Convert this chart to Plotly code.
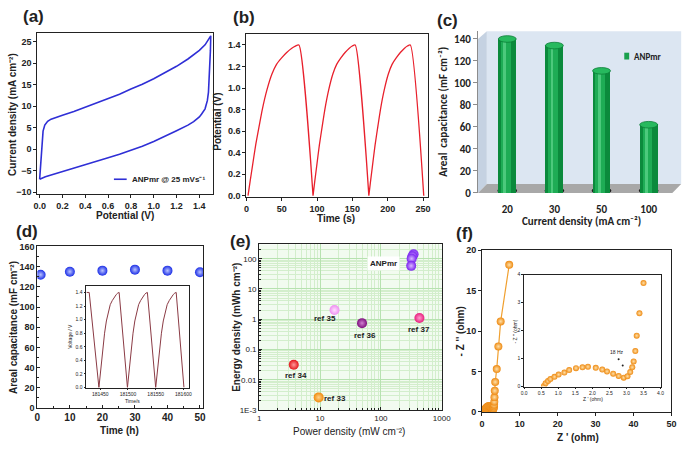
import numpy as np
import plotly.graph_objects as go

W, H = 700, 452
NARROW = "Liberation Sans Narrow, Arial Narrow, Liberation Sans, Arial"
CAL = "Carlito, Lato, Liberation Sans, Arial"

# ---------------- data ----------------
# (a) cyclic voltammogram
cv_fwd_pot = [0.0, 0.005, 0.012, 0.02, 0.03, 0.045, 0.07, 0.1, 0.15, 0.2, 0.3, 0.4, 0.5, 0.6,
              0.7, 0.8, 0.9, 1.0, 1.1, 1.2, 1.3, 1.4, 1.45, 1.5]
cv_fwd_cur = [-7.0, -5.0, -1.0, 2.0, 4.2, 5.6, 6.5, 7.0, 7.5, 7.9, 8.8, 9.8, 10.7, 11.7,
              12.8, 14.0, 15.1, 16.4, 17.8, 19.3, 21.0, 23.0, 24.3, 26.4]
cv_rev_pot = [1.5, 1.497, 1.493, 1.487, 1.48, 1.47, 1.45, 1.42, 1.4, 1.35, 1.3, 1.2, 1.1, 1.0,
              0.9, 0.8, 0.7, 0.6, 0.5, 0.4, 0.3, 0.2, 0.1, 0.05, 0.0]
cv_rev_cur = [26.4, 23.0, 19.5, 16.0, 13.3, 11.3, 9.4, 8.2, 7.5, 6.4, 5.6, 4.3, 3.0, 1.8,
              0.7, -0.3, -1.2, -2.0, -2.8, -3.6, -4.4, -5.1, -5.9, -6.4, -7.0]

# (b) galvanostatic charge/discharge: charge profile (fraction of charge time -> V)
gcd_frac = [0, 0.04, 0.085, 0.15, 0.22, 0.28, 0.37, 0.47, 0.56, 0.66, 0.76, 0.86, 0.93, 1.0]
gcd_volt = [0, 0.13, 0.27, 0.47, 0.65, 0.80, 0.98, 1.13, 1.22, 1.28, 1.33, 1.37, 1.39, 1.40]
b_start = [2.3, 94.3, 173.3]
b_peak = [74.3, 154.0, 232.0]
b_end = [94.3, 173.3, 251.0]

# (c) areal capacitance vs current density
c_current = ["20", "30", "50", "100"]
c_cap = [140, 134, 111, 62]

# (d) stability
d_time = [1, 10, 20, 30, 40, 50]
d_cap = [132, 135, 136, 137, 136, 134.5]
d_in_lead_t = [181425, 181430, 181447.5]
d_in_lead_v = [1.4, 1.4, 0.0]
d_in_start = [181447.5, 181499, 181550]
d_in_peak = [181484, 181535, 181587]
d_in_end = [181499, 181550, 181601]
d_in_ticks = [181450, 181500, 181550, 181600]

# (e) Ragone plot
ref_names = ["ref 33", "ref 34", "ref 35", "ref 36", "ref 37"]
ref_power = [9.5, 3.7, 17.3, 49, 430]
ref_energy = [0.0026, 0.031, 2.0, 0.74, 1.1]
ref_colors = ["#f08a0c", "#e3161b", "#ee8ef0", "#7d0f7d", "#e8207e"]
ref_centers = ["#ffd28a", "#ff9a9a", "#ffe0ff", "#d080d0", "#ff9ccd"]
anp_power = [345, 330, 320, 315]
anp_energy = [140, 120, 100, 58]
e_yticks = [0.001, 0.01, 0.1, 1, 10, 100]
e_yticktext = ["1E-3", "0.01", "0.1", "1", "10", "100"]
e_xticks = [1, 10, 100, 1000]

# (f) Nyquist
nyq_re = [0.58, 0.63, 0.70, 0.77, 0.89, 1.01, 1.18, 1.32, 1.52, 1.71, 1.87, 2.10, 2.29, 2.43,
          2.61, 2.77, 2.92, 3.03, 3.11, 3.17, 3.21, 3.26, 3.30, 3.38, 3.50]
nyq_im = [0.02, 0.12, 0.20, 0.27, 0.35, 0.43, 0.50, 0.59, 0.66, 0.69, 0.71, 0.67, 0.61, 0.54,
          0.46, 0.38, 0.32, 0.37, 0.52, 0.69, 0.90, 1.27, 1.82, 2.62, 3.70]
nyq_ext_re = [3.9, 4.33, 4.94, 7.19]
nyq_ext_im = [5.3, 8.1, 11.2, 18.2]
hz_dots_re = [2.77, 2.89]
hz_dots_im = [0.98, 0.75]


# ---------------- helpers ----------------
def X(px):
    return px / W


def Y(py):
    return 1 - py / H


def xax(p0, p1, rng, fs=9, fam=NARROW, **kw):
    d = dict(domain=[X(p0), X(p1)], range=rng, showline=True, linecolor="#222", linewidth=1,
             mirror=True, ticks="outside", ticklen=3, tickcolor="#222", showgrid=False,
             zeroline=False, fixedrange=True,
             tickfont=dict(family=fam, size=fs, color="#222", weight="bold"))
    d.update(kw)
    return d


def yax(top, bottom, rng, fs=9, fam=NARROW, **kw):
    d = dict(domain=[Y(bottom), Y(top)], range=rng, showline=True, linecolor="#222", linewidth=1,
             mirror=True, ticks="outside", ticklen=3, tickcolor="#222", showgrid=False,
             zeroline=False, fixedrange=True,
             tickfont=dict(family=fam, size=fs, color="#222", weight="bold"))
    d.update(kw)
    return d


def ann(x, y, text, size, angle=0, xanchor="center", fam=NARROW, color="#222", weight="bold", **kw):
    d = dict(x=X(x), y=Y(y), xref="paper", yref="paper", text=text, showarrow=False,
             textangle=angle, xanchor=xanchor, yanchor="middle",
             font=dict(family=fam, size=size, color=color, weight=weight))
    d.update(kw)
    return d


def ball(color, center, size):
    return dict(color=color, size=size, line=dict(width=0),
                gradient=dict(type="radial", color=center))


def gcd_series(starts, peaks, ends):
    ts, vs = [], []
    for s, p, e in zip(starts, peaks, ends):
        for f, v in zip(gcd_frac, gcd_volt):
            ts.append(s + f * (p - s))
            vs.append(v)
        ts.append(e)
        vs.append(0.0)
    return ts, vs


fig = go.Figure()
shapes = []
anns = []

# ---------------- (a) ----------------
fig.add_trace(go.Scatter(x=cv_fwd_pot + cv_rev_pot, y=cv_fwd_cur + cv_rev_cur, mode="lines",
                         line=dict(color="#2f2fd6", width=1.6), xaxis="x", yaxis="y"))
shapes.append(dict(type="line", xref="paper", yref="paper", x0=X(112), x1=X(125), y0=Y(179), y1=Y(179),
                   line=dict(color="#2f2fd6", width=1.6)))
anns.append(ann(128, 179, "ANPmr @ 25 mVs⁻¹", 8, xanchor="left"))
anns.append(ann(8, 112, "Current density (mA cm⁻²)", 10, angle=-90))
anns.append(ann(123, 216, "Potential (V)", 10))

# ---------------- (b) ----------------
bt, bv = gcd_series(b_start, b_peak, b_end)
fig.add_trace(go.Scatter(x=bt, y=bv, mode="lines", line=dict(color="#e8202c", width=1.3, shape="spline",
                                                               smoothing=0.6),
                         xaxis="x2", yaxis="y2"))
anns.append(ann(218, 120, "Potential (V)", 10, angle=-90))
anns.append(ann(338, 219, "Time (s)", 10))

# ---------------- (c) ----------------
cx = list(range(len(c_current)))
shapes.append(dict(type="path", xref="paper", yref="paper", layer="below",
                   path=f"M{X(483)},{Y(35)} L{X(492)},{Y(27)} L{X(492)},{Y(184)} L{X(483)},{Y(193)} Z",
                   fillcolor="#c5d2e2", line=dict(width=0)))
shapes.append(dict(type="rect", xref="paper", yref="paper", layer="below",
                   x0=X(492), x1=X(690), y0=Y(184), y1=Y(27), fillcolor="#dce6f2", line=dict(width=0)))
shapes.append(dict(type="path", xref="paper", yref="paper", layer="below",
                   path=f"M{X(483)},{Y(193)} L{X(681)},{Y(193)} L{X(690)},{Y(184)} L{X(492)},{Y(184)} Z",
                   fillcolor="#a8a8a8", line=dict(width=0)))
fig.add_trace(go.Bar(x=cx, y=c_cap, width=0.38, offset=-0.19, marker=dict(color="#0b8a3c", line=dict(width=0)),
                     xaxis="x3", yaxis="y3"))
fig.add_trace(go.Bar(x=cx, y=c_cap, width=0.2, offset=-0.13, marker=dict(color="#1eac55", line=dict(width=0)),
                     xaxis="x3", yaxis="y3"))
fig.add_trace(go.Bar(x=cx, y=c_cap, width=0.06, offset=-0.08, marker=dict(color="#4cc97c", line=dict(width=0)),
                     xaxis="x3", yaxis="y3"))
for i, v in zip(cx, c_cap):
    shapes.append(dict(type="circle", xref="x3", yref="y3", x0=i - 0.19, x1=i + 0.19, y0=v - 3, y1=v + 3,
                       fillcolor="#27b95e", line=dict(color="#0b7f37", width=0.8)))
    shapes.append(dict(type="circle", xref="x3", yref="y3", x0=i - 0.21, x1=i + 0.21, y0=-1, y1=5,
                       fillcolor="#1e1e1e", line=dict(width=0), layer="below"))
shapes.append(dict(type="rect", xref="paper", yref="paper", x0=X(632), x1=X(637), y0=Y(56), y1=Y(49),
                   fillcolor="#19a04d", line=dict(width=0)))
anns.append(ann(640, 52.5, "ANPmr", 9, xanchor="left", fam=CAL))
anns.append(ann(447, 110, "Areal  capacitance (mF cm⁻²)", 11, angle=-90, fam=CAL))
anns.append(ann(588, 222, "Current density (mA cm⁻²)", 11, fam=CAL))

# ---------------- (d) ----------------
fig.add_trace(go.Scatter(x=d_time, y=d_cap, mode="markers", marker=ball("#1c2fe6", "#b8c2ff", 10),
                         xaxis="x4", yaxis="y4"))
dt, dv = gcd_series(d_in_start, d_in_peak, d_in_end)
fig.add_trace(go.Scatter(x=d_in_lead_t + dt, y=d_in_lead_v + dv, mode="lines",
                         line=dict(color="#8a3a44", width=1), xaxis="x5", yaxis="y5"))
anns.append(ann(9, 331, "Areal capacitance (mF cm⁻²)", 10, angle=-90))
anns.append(ann(118, 437, "Time (h)", 10))
anns.append(ann(67, 340, "Voltage / V", 5, angle=-90, weight="normal"))
anns.append(ann(131, 407, "Time/s", 5, weight="normal"))

# ---------------- (e) ----------------
shapes.append(dict(type="rect", xref="paper", yref="paper", x0=X(260), x1=X(446), y0=Y(416), y1=Y(246),
                   fillcolor="#f2fbf0", line=dict(width=0), layer="below"))
fig.add_trace(go.Scatter(x=ref_power, y=ref_energy, mode="markers",
                         marker=dict(color=ref_colors, size=10, line=dict(width=0),
                                     gradient=dict(type="radial", color=ref_centers)),
                         xaxis="x6", yaxis="y6"))
fig.add_trace(go.Scatter(x=anp_power, y=anp_energy, mode="markers", marker=ball("#7a22f0", "#d9b8ff", 10),
                         xaxis="x6", yaxis="y6"))
label_shift = {"ref 33": (16, -1), "ref 34": (2, -11), "ref 35": (-10, -8),
               "ref 36": (3, -12), "ref 37": (0, -12)}
for n, p, e in zip(ref_names, ref_power, ref_energy):
    dx, dy = label_shift[n]
    anns.append(dict(x=np.log10(p), y=np.log10(e), xref="x6", yref="y6", text=n, showarrow=False,
                     xshift=dx, yshift=dy, font=dict(family=NARROW, size=8, color="#222", weight="bold")))
anns.append(ann(387, 265.5, "ANPmr", 8, bgcolor="white", borderpad=2))
anns.append(ann(237, 331, "Energy density (mWh cm⁻²)", 10, angle=-90))
anns.append(ann(352, 438, "Power density (mW cm⁻²)", 10, weight="normal"))

# ---------------- (f) ----------------
fig.add_trace(go.Scatter(x=nyq_re + nyq_ext_re, y=nyq_im + nyq_ext_im, mode="lines+markers",
                         line=dict(color="#f0a030", width=1.2), marker=ball("#ee8a12", "#ffe0a8", 8),
                         xaxis="x7", yaxis="y7"))
fig.add_trace(go.Scatter(x=nyq_re, y=nyq_im, mode="markers", marker=ball("#ee8a12", "#ffe0a8", 6),
                         xaxis="x8", yaxis="y8"))
fig.add_trace(go.Scatter(x=hz_dots_re, y=hz_dots_im, mode="markers", marker=dict(color="#222", size=2),
                         xaxis="x8", yaxis="y8"))
anns.append(dict(x=2.72, y=1.23, xref="x8", yref="y8", text="18 Hz", showarrow=False,
                 font=dict(family=NARROW, size=5, color="#222")))
anns.append(ann(465, 335, "- Z '' (ohm)", 10, angle=-90))
anns.append(ann(585, 444, "Z ' (ohm)", 10))
anns.append(ann(521, 335, "- Z '' (ohm)", 5, angle=-90, weight="normal"))
anns.append(ann(600, 405, "Z ' (ohm)", 5, weight="normal"))

# panel letters
for t, x, y in [("(a)", 30, 12), ("(b)", 245, 13), ("(c)", 452, 16),
                ("(d)", 23, 233), ("(e)", 241, 243), ("(f)", 469, 235)]:
    anns.append(ann(x, y, t, 17, fam="Liberation Sans, Arial"))

small = 5
sfont = dict(family=NARROW, size=small, color="#222")
fig.update_layout(
    width=W, height=H, margin=dict(l=0, r=0, t=0, b=0), autosize=False,
    paper_bgcolor="white", plot_bgcolor="rgba(0,0,0,0)", showlegend=False,
    barmode="overlay", bargap=0,
    xaxis=xax(34, 213, [-0.02, 1.52], tickvals=[0, 0.2, 0.4, 0.6, 0.8, 1.0, 1.2, 1.4],
              tickformat=".1f", anchor="y"),
    yaxis=yax(29, 194, [-10.4, 27], dtick=5, tick0=0, anchor="x"),
    xaxis2=xax(247, 432, [0, 257], dtick=50, tick0=0, anchor="y2"),
    yaxis2=yax(30, 197, [-0.01, 1.5], tickvals=[0, 0.2, 0.4, 0.6, 0.8, 1.0, 1.2, 1.4],
               tickformat=".1f", anchor="x2"),
    xaxis3=xax(483, 690, [-0.62, 3.69], fs=11, fam=CAL, showline=False, mirror=False, ticks="",
               tickvals=cx, ticktext=c_current, ticklabelstandoff=8, anchor="y3"),
    yaxis3=yax(27, 193, [0, 147], fs=11, fam=CAL, dtick=20, tick0=0, mirror=False,
               linecolor="#8c8c8c", tickcolor="#8c8c8c", ticklen=4, anchor="x3"),
    xaxis4=xax(34, 203, [0, 51], fs=10, dtick=10, tick0=0, anchor="y4", ticks="inside",
               minor=dict(dtick=5, ticks="inside", ticklen=2, tickcolor="#222")),
    yaxis4=yax(248, 414, [0, 160], fs=9, dtick=20, tick0=0, anchor="x4", ticks="inside",
               minor=dict(dtick=10, ticks="inside", ticklen=2, tickcolor="#222")),
    xaxis5=xax(84, 189, [181425, 181611], tickvals=d_in_ticks, tickformat="d", ticklen=2,
               tickfont=sfont, anchor="y5", linewidth=0.8),
    yaxis5=yax(289, 393, [0, 1.49], tickvals=[0, 0.2, 0.4, 0.6, 0.8, 1.0, 1.2, 1.4],
               tickformat=".1f", ticklen=2, tickfont=sfont, anchor="x5", linewidth=0.8),
    xaxis6=xax(260, 446, [0, 3], type="log", tickvals=e_xticks, ticktext=["1", "10", "100", "1000"],
               ticks="inside", showgrid=True, gridcolor="#b7e2b0", gridwidth=0.6, anchor="y6",
               tickfont=dict(family=NARROW, size=8, color="#222"),
               minor=dict(tickmode="array", ticks="inside", ticklen=2, tickcolor="#222",
                          tickvals=[k * 10 ** d for d in range(0, 3) for k in range(2, 10)],
                          showgrid=True, gridcolor="#d3eecc", gridwidth=0.5)),
    yaxis6=yax(246, 416, [-3, 2.47], type="log", tickvals=e_yticks, ticktext=e_yticktext,
               ticks="inside", showgrid=True, gridcolor="#b7e2b0", gridwidth=0.6, anchor="x6",
               tickfont=dict(family=NARROW, size=8, color="#222"),
               minor=dict(tickmode="array", ticks="inside", ticklen=2, tickcolor="#222",
                          tickvals=[k * 10 ** d for d in range(-3, 3) for k in range(2, 10)],
                          showgrid=True, gridcolor="#d3eecc", gridwidth=0.5)),
    xaxis7=xax(487, 680, [0, 50], dtick=10, tick0=0, anchor="y7"),
    yaxis7=yax(252, 418, [0, 20], dtick=5, tick0=0, anchor="x7"),
    xaxis8=xax(530, 669, [0, 4], tickvals=[0, 0.5, 1, 1.5, 2, 2.5, 3, 3.5, 4], tickformat=".1f",
               ticklen=2, tickfont=sfont, anchor="y8", linewidth=0.8),
    yaxis8=yax(277, 392, [0, 4], dtick=1, tick0=0, ticklen=2, tickfont=sfont, anchor="x8", linewidth=0.8),
    shapes=shapes, annotations=anns,
)

fig.write_html("out.html", config={"displayModeBar": False},
               post_script="document.body.style.margin='0';")
